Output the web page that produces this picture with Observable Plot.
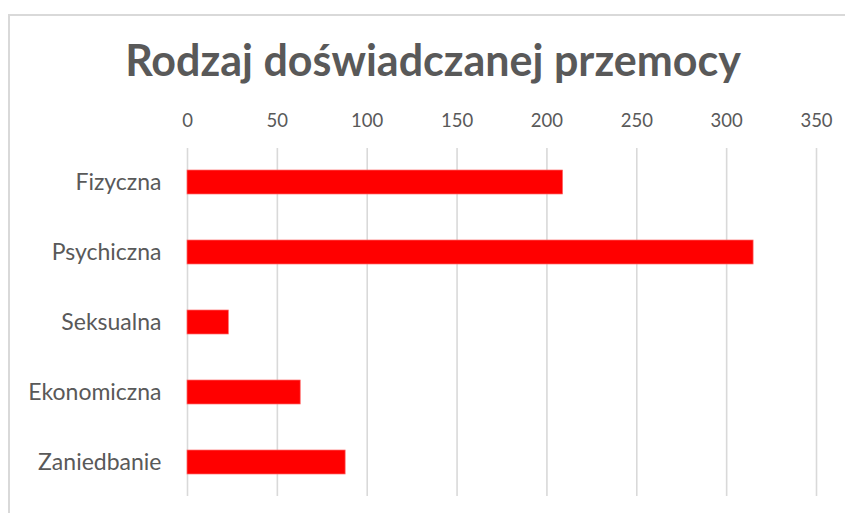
<!DOCTYPE html>
<html>
<head>
<meta charset="utf-8">
<script src="https://cdn.jsdelivr.net/npm/d3@7"></script>
<script src="https://cdn.jsdelivr.net/npm/@observablehq/plot@0.6"></script>
<style>
  html, body { margin: 0; padding: 0; background: #fff; }
  #wrap { position: relative; width: 845px; height: 513px; overflow: hidden; font-family: Lato, "Open Sans", sans-serif; }
  #frame { position: absolute; left: 8px; top: 14px; width: 860px; height: 520px; border-left: 2px solid #d9d9d9; border-top: 2px solid #d9d9d9; box-sizing: border-box; }
  #title { position: absolute; left: 0; width: 866px; top: 34px; text-align: center; font-size: 43px; font-weight: 700; color: #595959; white-space: nowrap; }
  #chart { position: absolute; left: 0; top: 0; }
</style>
</head>
<body>
<div id="wrap">
  <div id="frame"></div>
  <div id="chart"></div>
  <div id="title">Rodzaj doświadczanej przemocy</div>
</div>
<script>
const categories = ["Fizyczna", "Psychiczna", "Seksualna", "Ekonomiczna", "Zaniedbanie"];
const values = [209, 315, 23, 63, 88];
const xTicks = [0, 50, 100, 150, 200, 250, 300, 350];

const data = categories.map((c, i) => ({category: c, value: values[i]}));

const chart = Plot.plot({
  width: 845,
  height: 513,
  marginLeft: 187,
  marginRight: 29,
  marginTop: 148,
  marginBottom: 17,
  style: {fontFamily: "Lato, 'Open Sans', sans-serif", background: "transparent", color: "#595959"},
  x: {domain: [0, 350], ticks: xTicks, label: null},
  y: {domain: categories, paddingInner: 0.657, paddingOuter: 0.314, label: null},
  marks: [
    Plot.ruleX(xTicks, {stroke: "#d9d9d9", strokeWidth: 1.6}),
    Plot.barX(data, {x: "value", y: "category", fill: "#ff0000", stroke: "#ff6a6a", strokeWidth: 0.7}),
    Plot.axisX({anchor: "top", ticks: xTicks, tickSize: 0, tickPadding: 22, fontSize: 18.5, fill: "#595959", label: null}),
    Plot.axisY({anchor: "left", tickSize: 0, tickPadding: 26, fontSize: 23, fill: "#595959", label: null})
  ]
});
document.getElementById("chart").appendChild(chart);
</script>
</body>
</html>
